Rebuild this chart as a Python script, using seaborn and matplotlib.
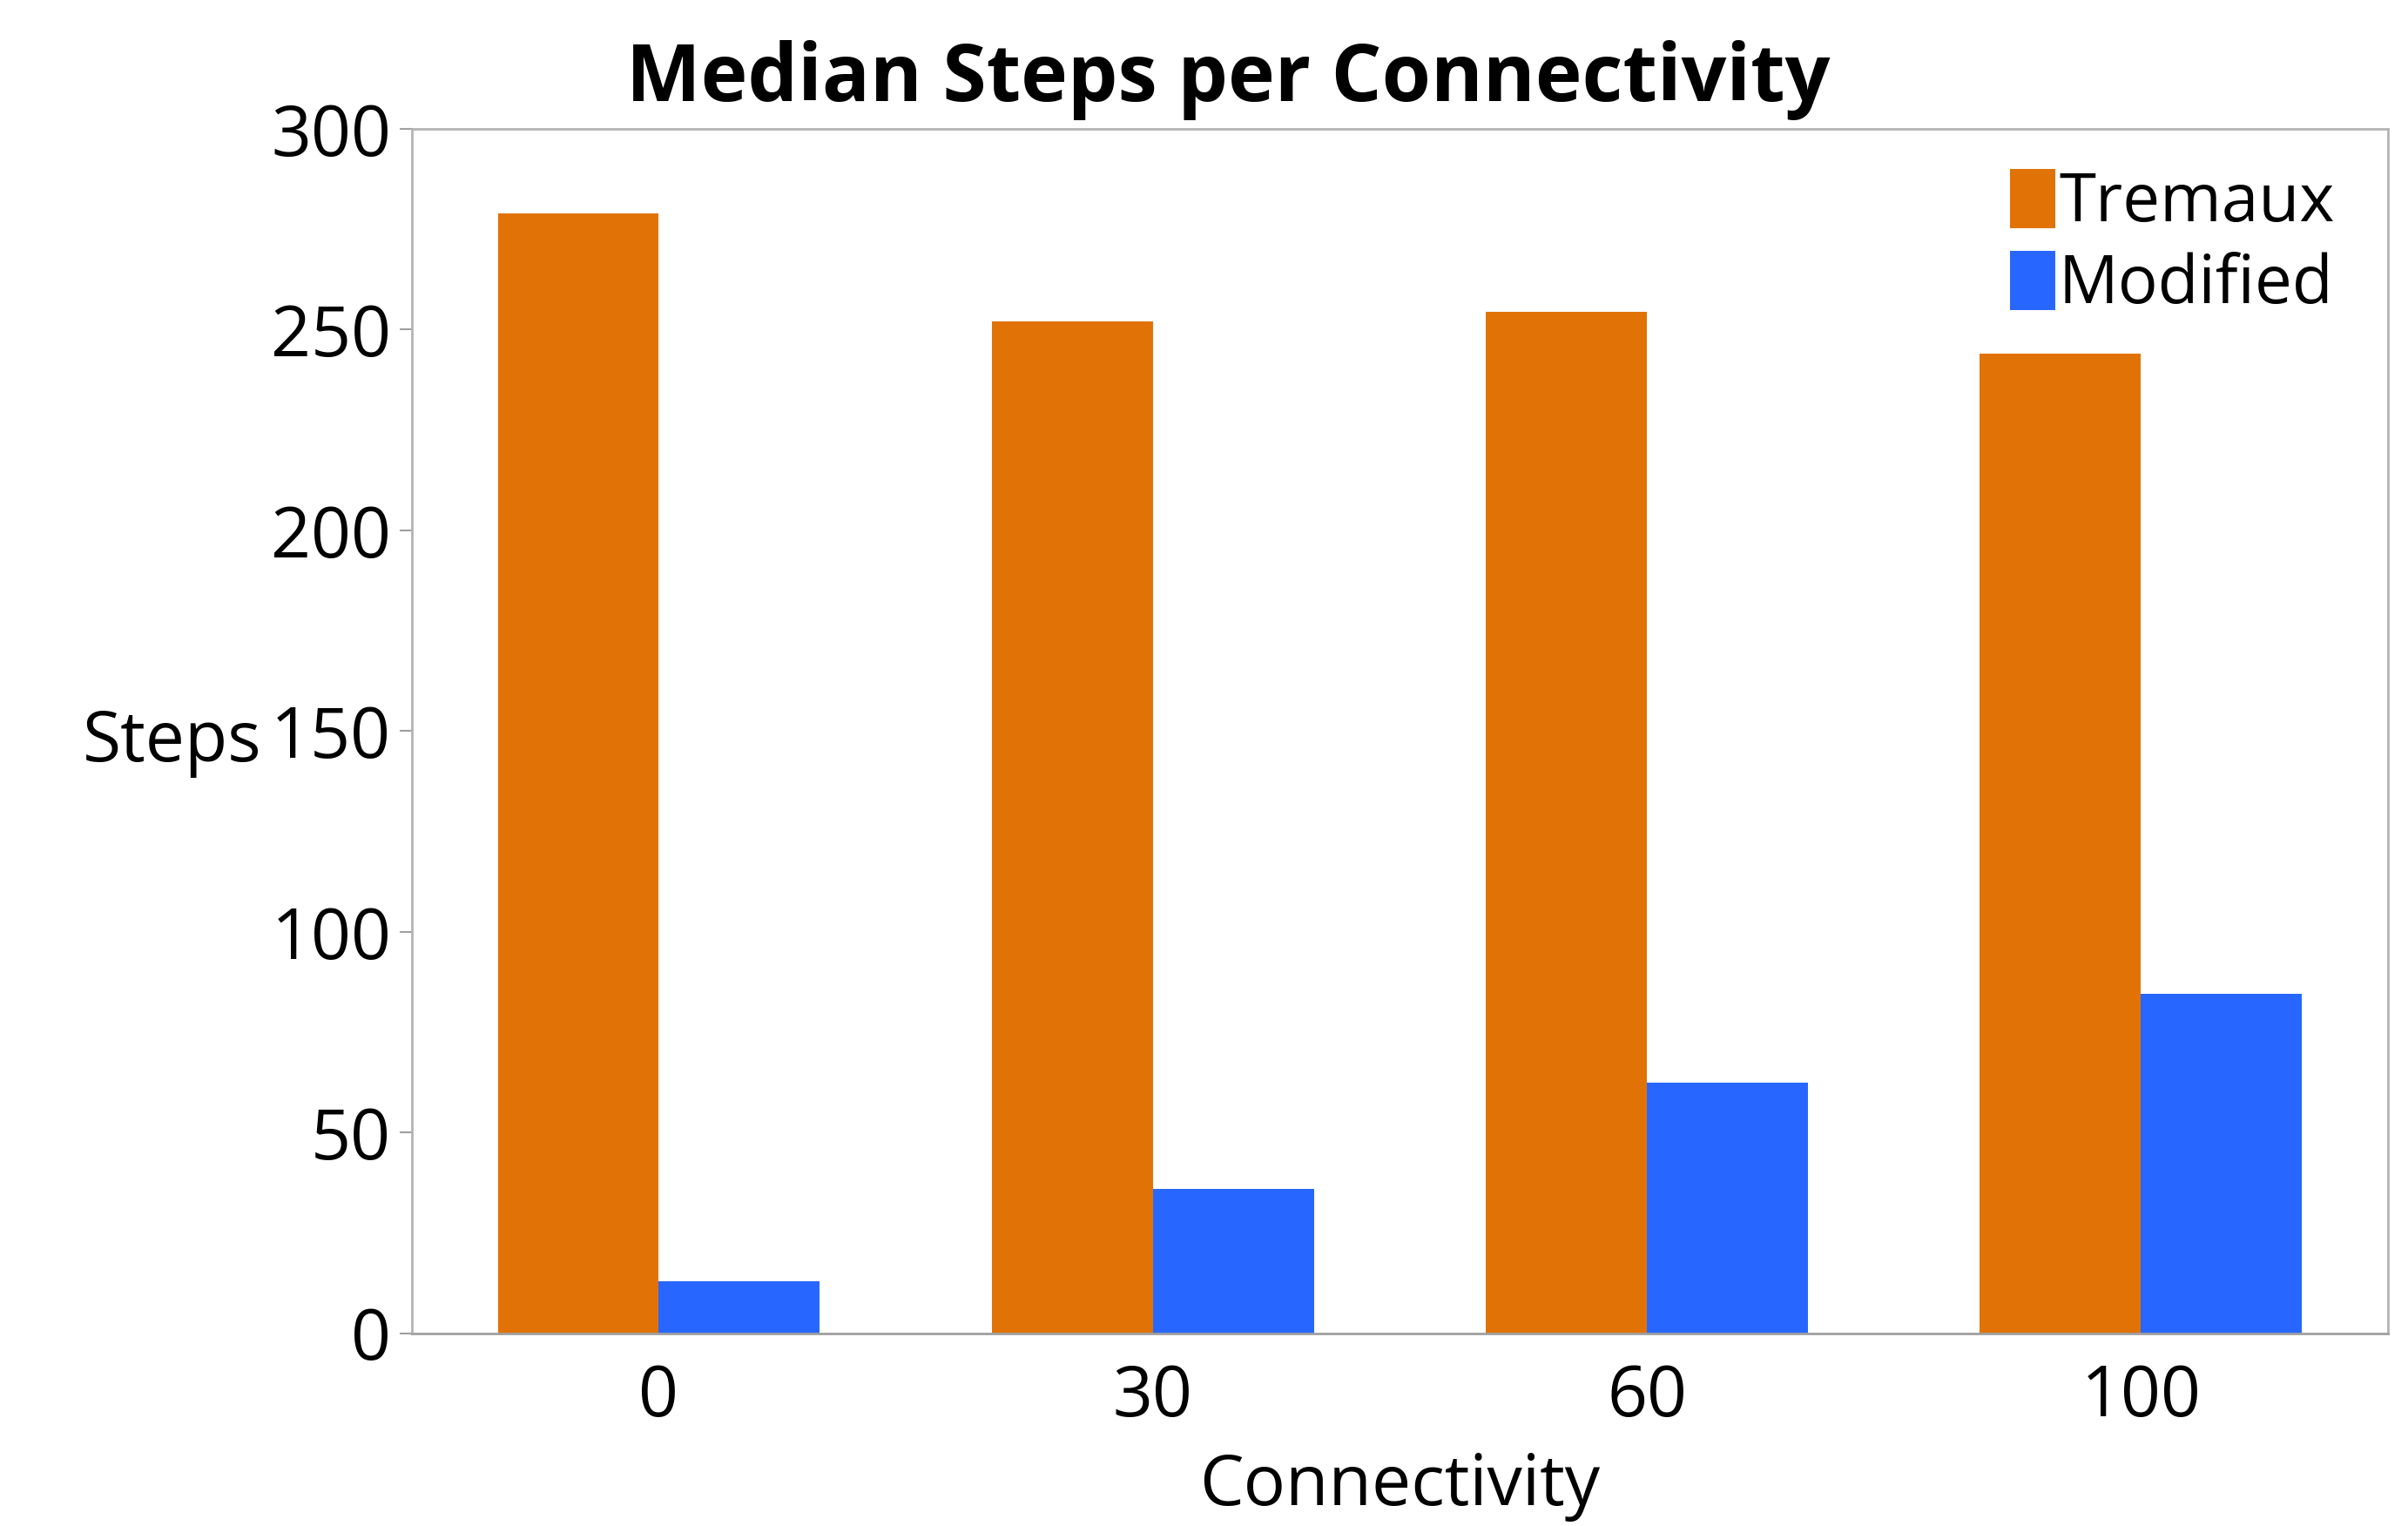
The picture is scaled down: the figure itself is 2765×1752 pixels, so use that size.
import pandas as pd
import numpy as np
import matplotlib.pyplot as plt
import seaborn as sns

# values
connectivity = ['0', '30', '60', '100']
tremaux = [279, 252, 254.5, 244]
modified = [13, 36, 62.5, 84.5]
series = ['Tremaux', 'Modified']
colors = ['#E17306', '#2867FF']

data = pd.DataFrame({'Connectivity': connectivity * 2,
                     'Steps': tremaux + modified,
                     'Method': [series[0]] * 4 + [series[1]] * 4})

sns.set_style('white')
plt.rcParams['font.family'] = ['Open Sans', 'DejaVu Sans']
plt.rcParams['text.color'] = 'black'
plt.rcParams['axes.labelcolor'] = 'black'

fig = plt.figure(figsize=(27.65, 17.52), dpi=100)
ax = fig.add_axes([0.171, 0.1263, 0.8207, 0.7892])

sns.barplot(data=data, x='Connectivity', y='Steps', hue='Method',
            order=connectivity, hue_order=series, palette=colors,
            width=0.652, saturation=1, linewidth=0, ax=ax)

ax.set_xlim(-0.5, 3.5)
ax.set_ylim(0, 300)
ax.set_yticks([0, 50, 100, 150, 200, 250, 300])

for s in ax.spines.values():
    s.set_visible(True)
    s.set_color('#b4b4b4')
    s.set_linewidth(2)
ax.spines['bottom'].set_color('#a0a0a0')

ax.tick_params(axis='y', which='major', labelsize=58, length=10, width=1.5,
               color='#a0a0a0', labelcolor='black', pad=7, left=True)
ax.tick_params(axis='x', labelsize=58, length=0, pad=24, labelcolor='black')

ax.set_ylabel('Steps', fontsize=58, rotation=0, ha='right', va='center')
ax.yaxis.set_label_coords(-0.076, 0.49)
ax.set_xlabel('Connectivity', fontsize=58, labelpad=16)

fig.text(0.51, 0.934, 'Median Steps per Connectivity', fontsize=65.5,
         fontweight='bold', ha='center', va='baseline')

leg = ax.legend(loc='upper right', fontsize=55, frameon=False,
                handlelength=0.68, handleheight=1.0, handletextpad=0.05,
                labelspacing=0.2, borderaxespad=0.2, bbox_to_anchor=(0.993, 1.0))

fig.savefig('out.png', dpi=100)
